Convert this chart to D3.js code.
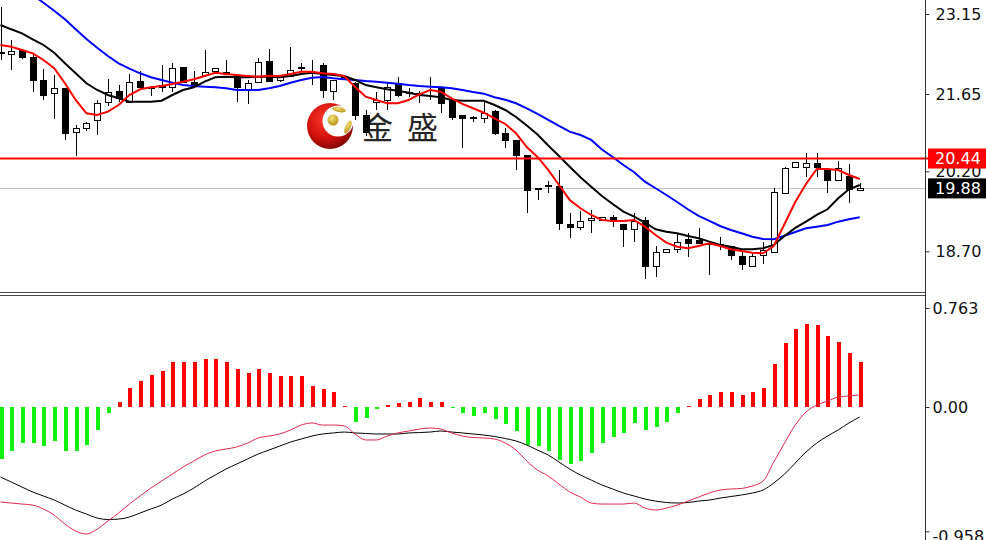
<!DOCTYPE html>
<html>
<head>
<meta charset="utf-8">
<script src="https://cdn.jsdelivr.net/npm/d3@7/dist/d3.min.js"></script>
<style>
  html, body { margin: 0; padding: 0; background: #fff; }
  svg { display: block; }
</style>
</head>
<body>
<svg id="chart" width="986" height="540"></svg>
<script>
// ---------------- DATA ----------------
const openP  = [22.44,22.40,22.48,22.34,21.91,21.67,21.76,20.94,21.01,21.16,21.50,21.71,21.50,21.89,21.78,21.82,21.78,22.16,21.88,22.01,
                22.08,22.06,22.01,21.74,21.88,22.27,21.91,21.99,22.14,22.21,22.19,21.71,21.97,21.86,21.26,21.50,21.54,21.86,21.69,21.67,
                21.74,21.76,21.54,21.26,21.20,21.20,21.33,20.91,20.79,20.51,19.89,19.93,19.93,19.21,19.16,19.28,19.29,19.35,19.21,19.11,
                19.29,18.43,18.68,18.74,18.93,18.91,18.84,18.83,18.80,18.61,18.43,18.63,18.69,19.79,20.29,20.28,20.35,20.225,20.04,20.11,
                19.85];
const highP  = [23.28,22.66,22.49,22.38,22.12,22.01,21.76,21.07,21.12,21.54,21.93,21.82,22.03,22.08,21.80,22.19,22.23,22.16,22.08,22.48,
                22.14,22.29,22.01,21.91,22.33,22.49,21.98,22.53,22.23,22.29,22.23,21.91,22.01,21.88,21.35,21.69,21.86,21.97,21.76,21.71,
                21.97,21.80,21.54,21.26,21.24,21.54,21.35,21.01,20.79,20.51,19.89,20.01,20.23,19.42,19.46,19.47,19.35,19.38,19.21,19.41,
                19.35,18.80,18.74,19.04,19.04,19.13,18.88,18.97,18.80,18.69,18.66,18.88,19.88,20.29,20.38,20.54,20.54,20.26,20.40,20.34,
                19.98];
const lowP   = [22.29,22.10,22.31,21.69,21.54,21.18,20.79,20.49,20.96,20.88,21.43,21.50,21.48,21.76,21.61,21.69,21.69,21.86,21.76,21.97,
                22.06,22.01,21.50,21.46,21.86,21.88,21.88,21.97,22.06,21.82,21.58,21.54,21.93,21.16,20.86,21.35,21.35,21.59,21.59,21.48,
                21.54,21.29,21.16,20.64,21.13,21.11,20.88,20.63,20.23,19.41,19.66,19.79,19.10,18.95,19.10,19.04,19.28,19.16,18.78,18.88,
                18.18,18.21,18.66,18.67,18.59,18.84,18.26,18.725,18.54,18.35,18.40,18.46,18.66,19.78,20.26,20.10,20.10,19.79,20.02,19.60,
                19.84];
const closeP = [22.42,22.46,22.34,21.91,21.63,21.76,20.92,21.01,21.11,21.48,21.69,21.58,21.88,21.78,21.77,21.78,22.14,21.88,21.80,22.06,
                22.13,22.03,21.78,21.86,22.25,21.89,21.97,22.10,22.15,22.22,21.73,21.91,21.98,21.26,20.94,21.53,21.78,21.63,21.67,21.65,
                21.75,21.48,21.22,21.20,21.21,21.29,20.92,20.79,20.51,19.85,19.87,19.94,19.23,19.16,19.26,19.32,19.34,19.26,19.11,19.26,
                18.43,18.69,18.74,18.88,18.86,18.86,18.85,18.81,18.63,18.46,18.61,18.725,19.82,20.26,20.37,20.35,20.29,20.04,20.27,19.86,
                19.88];

const maRed   = [22.569,22.537,22.475,22.413,22.288,22.132,21.851,21.538,21.288,21.256,21.318,21.444,21.631,21.738,21.776,21.800,21.838,21.881,21.926,21.988,
                 22.049,22.025,22.006,21.988,21.974,21.993,21.988,22.025,22.068,22.068,22.038,22.025,21.988,21.787,21.599,21.538,21.475,21.475,21.538,21.644,
                 21.725,21.693,21.569,21.463,21.382,21.299,21.194,21.088,20.913,20.656,20.469,20.225,19.944,19.663,19.507,19.381,19.288,19.269,19.269,19.288,
                 19.162,19.006,18.862,18.787,18.757,18.800,18.851,18.800,18.738,18.706,18.674,18.663,18.800,19.212,19.625,19.963,20.244,20.244,20.225,20.131,
                 20.056];
const maBlack = [22.944,22.863,22.788,22.676,22.569,22.424,22.226,22.038,21.851,21.725,21.631,21.569,21.506,21.506,21.506,21.524,21.631,21.725,21.776,21.881,
                 21.963,21.974,21.963,21.963,21.974,21.974,21.963,21.988,22.025,22.049,22.025,22.006,21.988,21.913,21.819,21.776,21.738,21.712,21.674,21.631,
                 21.613,21.588,21.538,21.524,21.524,21.524,21.444,21.350,21.219,21.059,20.891,20.684,20.488,20.287,20.088,19.912,19.738,19.588,19.443,19.349,
                 19.237,19.113,19.068,19.038,18.988,18.944,18.881,18.819,18.787,18.738,18.738,18.757,18.819,18.988,19.138,19.256,19.381,19.488,19.694,19.862,
                 19.944];
const maBlue  = [24.013,23.825,23.656,23.506,23.362,23.212,23.051,22.863,22.681,22.518,22.363,22.226,22.124,22.038,21.963,21.913,21.862,21.819,21.800,21.787,
                 21.776,21.757,21.725,21.725,21.725,21.757,21.800,21.862,21.913,21.956,21.969,21.944,21.926,21.913,21.894,21.881,21.862,21.843,21.819,21.800,
                 21.787,21.776,21.757,21.725,21.688,21.656,21.588,21.543,21.476,21.382,21.275,21.163,21.050,20.943,20.881,20.788,20.609,20.469,20.319,20.182,
                 20.006,19.882,19.756,19.625,19.488,19.363,19.269,19.175,19.100,19.038,18.974,18.931,18.927,18.993,19.063,19.132,19.162,19.194,19.256,19.301,
                 19.338];

const macdHist = [-0.400,-0.337,-0.280,-0.280,-0.300,-0.260,-0.337,-0.337,-0.290,-0.177,-0.050,0.039,0.144,0.200,0.247,0.278,0.350,0.350,0.350,0.367,
                  0.367,0.350,0.293,0.260,0.293,0.260,0.239,0.239,0.239,0.162,0.136,0.118,0.004,-0.113,-0.087,-0.018,0.015,0.028,0.041,0.067,
                  0.041,0.037,-0.010,-0.049,-0.069,-0.049,-0.095,-0.131,-0.183,-0.293,-0.300,-0.337,-0.409,-0.440,-0.414,-0.357,-0.280,-0.234,-0.198,-0.121,
                  -0.177,-0.157,-0.113,-0.049,0.010,0.059,0.092,0.113,0.113,0.092,0.113,0.144,0.329,0.496,0.604,0.642,0.632,0.547,0.503,0.414,
                  0.349];
const macdMain = [-0.732,-0.740,-0.748,-0.756,-0.786,-0.833,-0.902,-0.956,-0.979,-0.941,-0.879,-0.817,-0.748,-0.686,-0.625,-0.571,-0.517,-0.463,-0.416,-0.370,
                  -0.339,-0.324,-0.308,-0.278,-0.239,-0.224,-0.208,-0.177,-0.139,-0.123,-0.139,-0.139,-0.146,-0.208,-0.254,-0.254,-0.224,-0.200,-0.185,-0.170,
                  -0.162,-0.170,-0.200,-0.224,-0.235,-0.239,-0.247,-0.278,-0.332,-0.416,-0.486,-0.532,-0.594,-0.655,-0.694,-0.740,-0.748,-0.748,-0.748,-0.740,
                  -0.779,-0.794,-0.779,-0.756,-0.725,-0.694,-0.663,-0.640,-0.632,-0.628,-0.609,-0.571,-0.424,-0.278,-0.139,-0.039,0.015,0.046,0.077,0.085,
                  0.093];
const macdSignal = [-0.540,-0.578,-0.617,-0.655,-0.686,-0.717,-0.756,-0.794,-0.825,-0.856,-0.867,-0.864,-0.848,-0.817,-0.786,-0.756,-0.709,-0.671,-0.625,-0.571,
                    -0.524,-0.478,-0.439,-0.401,-0.362,-0.332,-0.301,-0.270,-0.247,-0.224,-0.208,-0.200,-0.193,-0.200,-0.204,-0.208,-0.208,-0.208,-0.200,-0.197,
                    -0.193,-0.185,-0.193,-0.200,-0.208,-0.216,-0.227,-0.243,-0.262,-0.293,-0.332,-0.370,-0.424,-0.478,-0.524,-0.563,-0.601,-0.632,-0.663,-0.686,
                    -0.709,-0.725,-0.736,-0.740,-0.736,-0.725,-0.717,-0.702,-0.690,-0.678,-0.663,-0.640,-0.586,-0.517,-0.432,-0.347,-0.278,-0.224,-0.177,-0.123,
                    -0.077];

const priceTicks = [23.15, 21.65, 20.20, 18.70];
const macdTicks = [0.763, 0.00, -0.958];
const macdTickLabels = ["0.763", "0.00", "-0.958"];
const levelPrice = 20.44;
const lastPrice = 19.88;
const watermarkChars = ["金", "盛"];

// ---------------- LAYOUT ----------------
const svg = d3.select("#chart");
const W = 986, H = 540;
const axisX = 925;
const mainTop = 0, mainBottom = 292;
const subTop = 295, subBottom = 540;

const n = closeP.length;
const x = d3.scaleLinear().domain([0, n - 1]).range([0.5, 859.7]);
const y = d3.scaleLinear().domain([18.70, 23.15]).range([251.3, 14]);
const ym = d3.scaleLinear().domain([-0.958, 0.763]).range([531.3, 308]);

const defs = svg.append("defs");
defs.append("clipPath").attr("id", "clipMain")
  .append("rect").attr("x", 0).attr("y", mainTop).attr("width", axisX).attr("height", mainBottom - mainTop);
defs.append("clipPath").attr("id", "clipSub")
  .append("rect").attr("x", 0).attr("y", subTop + 1).attr("width", axisX).attr("height", subBottom - subTop);

// gradients for logo
const rg = defs.append("radialGradient").attr("id", "redG").attr("cx", "40%").attr("cy", "35%").attr("r", "70%");
rg.append("stop").attr("offset", "0%").attr("stop-color", "#ff3a2a");
rg.append("stop").attr("offset", "60%").attr("stop-color", "#d0100c");
rg.append("stop").attr("offset", "100%").attr("stop-color", "#7a0606");
const gg = defs.append("radialGradient").attr("id", "goldG").attr("cx", "40%").attr("cy", "35%").attr("r", "70%");
gg.append("stop").attr("offset", "0%").attr("stop-color", "#f6e27a");
gg.append("stop").attr("offset", "100%").attr("stop-color", "#b38e12");
const mask = defs.append("mask").attr("id", "crescentMask");
mask.append("rect").attr("x", 290).attr("y", 90).attr("width", 80).attr("height", 80).attr("fill", "#fff");
mask.append("circle").attr("cx", 338).attr("cy", 121).attr("r", 15.5).attr("fill", "#000");

// ---------------- MAIN PANE ----------------
const main = svg.append("g").attr("clip-path", "url(#clipMain)");

// watermark (behind the price bars)
const logo = main.append("g");
logo.append("circle").attr("cx", 330).attr("cy", 126).attr("r", 23)
  .attr("fill", "url(#redG)").attr("mask", "url(#crescentMask)");
logo.append("circle").attr("cx", 333).attr("cy", 120).attr("r", 5.5).attr("fill", "url(#goldG)");
logo.append("ellipse").attr("cx", 339).attr("cy", 109.5).attr("rx", 7).attr("ry", 2.6)
  .attr("transform", "rotate(12 339 109.5)").attr("fill", "url(#goldG)");
logo.append("ellipse").attr("cx", 348).attr("cy", 127).attr("rx", 2.6).attr("ry", 7)
  .attr("transform", "rotate(25 348 127)").attr("fill", "url(#goldG)");
main.selectAll("text.wm").data(watermarkChars).join("text")
  .attr("class", "wm")
  .attr("x", (d, i) => 362 + i * 45).attr("y", 139)
  .attr("font-family", "'Noto Sans CJK SC', sans-serif")
  .attr("font-size", 31).attr("fill", "#262626")
  .text(d => d);

// horizontal line at last price
main.append("line").attr("x1", 0).attr("x2", axisX)
  .attr("y1", Math.round(y(lastPrice)) + 0.5).attr("y2", Math.round(y(lastPrice)) + 0.5)
  .attr("stroke", "#c0c0c0").attr("stroke-width", 1);

// candles
const candles = d3.range(n).map(i => ({ i, o: openP[i], h: highP[i], l: lowP[i], c: closeP[i] }));
const cg = main.append("g").attr("shape-rendering", "crispEdges");
cg.selectAll("line.wick").data(candles).join("line")
  .attr("class", "wick")
  .attr("x1", d => Math.round(x(d.i)) + 0.5).attr("x2", d => Math.round(x(d.i)) + 0.5)
  .attr("y1", d => y(d.h)).attr("y2", d => y(d.l))
  .attr("stroke", "#000").attr("stroke-width", 1);
cg.selectAll("rect.body").data(candles).join("rect")
  .attr("class", "body")
  .attr("x", d => Math.round(x(d.i)) - 2.5)
  .attr("width", 6)
  .attr("y", d => Math.round(y(Math.max(d.o, d.c))) + 0.5)
  .attr("height", d => Math.max(0, Math.round(y(Math.min(d.o, d.c))) - Math.round(y(Math.max(d.o, d.c)))))
  .attr("fill", d => d.c >= d.o ? "#fff" : "#000")
  .attr("stroke", "#000").attr("stroke-width", 1);

// moving averages
const lineGen = arr => d3.line().x((d, i) => x(i)).y(d => y(d))(arr);
main.append("path").attr("d", lineGen(maBlue)).attr("fill", "none").attr("stroke", "#0000ff").attr("stroke-width", 2);
main.append("path").attr("d", lineGen(maBlack)).attr("fill", "none").attr("stroke", "#000").attr("stroke-width", 2);
main.append("path").attr("d", lineGen(maRed)).attr("fill", "none").attr("stroke", "#ff0000").attr("stroke-width", 2);

// level line 20.44
svg.append("line").attr("x1", 0).attr("x2", axisX + 3)
  .attr("y1", y(levelPrice)).attr("y2", y(levelPrice))
  .attr("stroke", "#ff0000").attr("stroke-width", 2);

// pane borders
svg.append("line").attr("x1", 0).attr("x2", axisX).attr("y1", mainBottom + 0.5).attr("y2", mainBottom + 0.5)
  .attr("stroke", "#4a4a4a").attr("stroke-width", 1);
svg.append("line").attr("x1", 0).attr("x2", axisX).attr("y1", subTop + 0.5).attr("y2", subTop + 0.5)
  .attr("stroke", "#4a4a4a").attr("stroke-width", 1);
svg.append("line").attr("x1", axisX + 0.5).attr("x2", axisX + 0.5).attr("y1", 0).attr("y2", H)
  .attr("stroke", "#333").attr("stroke-width", 1);

// price axis
const axisFont = "'DejaVu Sans', Verdana, sans-serif";
const pAxis = svg.append("g").attr("transform", `translate(${axisX + 0.5},0)`)
  .call(d3.axisRight(y).tickValues(priceTicks).tickFormat(d3.format(".2f")).tickSize(4).tickPadding(6));
pAxis.select(".domain").remove();
pAxis.selectAll("line").attr("stroke", "#333");
pAxis.selectAll("text").attr("font-family", axisFont).attr("font-size", 16).attr("fill", "#111");

// price boxes (drawn over the partly hidden 20.20 label, as in the original)
function priceBox(val, bg) {
  const cy = y(val);
  svg.append("rect").attr("x", 928).attr("y", cy - 10).attr("width", 58).attr("height", 20).attr("fill", bg);
  svg.append("text").attr("x", 935).attr("y", cy).attr("dy", "0.36em")
    .attr("font-family", axisFont).attr("font-size", 16).attr("fill", "#fff")
    .text(d3.format(".2f")(val));
}
priceBox(levelPrice, "#ff0000");
priceBox(lastPrice, "#000");

// ---------------- MACD PANE ----------------
const sub = svg.append("g").attr("clip-path", "url(#clipSub)");
sub.append("g").attr("shape-rendering", "crispEdges")
  .selectAll("rect").data(macdHist).join("rect")
  .attr("x", (d, i) => Math.round(x(i)) - 1)
  .attr("width", 4)
  .attr("y", d => Math.min(ym(0), ym(d)))
  .attr("height", d => Math.max(1, Math.abs(ym(d) - ym(0))))
  .attr("fill", d => d >= 0 ? "#ff0000" : "#12f012");

const mLine = arr => d3.line().x((d, i) => x(i)).y(d => ym(d)).curve(d3.curveMonotoneX)(arr);
sub.append("path").attr("d", mLine(macdSignal)).attr("fill", "none").attr("stroke", "#000").attr("stroke-width", 1);
sub.append("path").attr("d", mLine(macdMain)).attr("fill", "none").attr("stroke", "#dc2850").attr("stroke-width", 1);

const mAxis = svg.append("g").attr("transform", `translate(${axisX + 0.5},0)`)
  .call(d3.axisRight(ym).tickValues(macdTicks).tickFormat((d, i) => macdTickLabels[i]).tickSize(4).tickPadding(3));
mAxis.select(".domain").remove();
mAxis.selectAll("line").attr("stroke", "#333");
mAxis.selectAll("text").attr("font-family", axisFont).attr("font-size", 16).attr("fill", "#111")
  .attr("dy", d => d === macdTicks[2] ? "0.66em" : "0.32em");
</script>
</body>
</html>
